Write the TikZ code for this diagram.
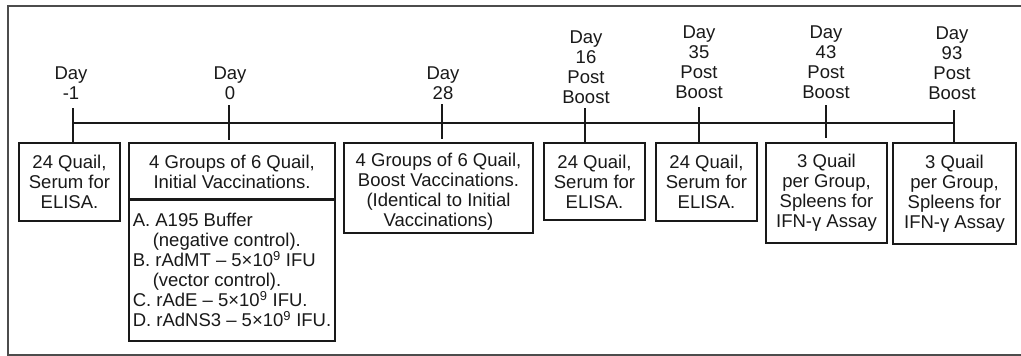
\documentclass[tikz,border=0pt]{standalone}
\usepackage{fontspec}
\setmainfont{Liberation Sans}
\newcommand\fs{\fontsize{18.5}{20}\selectfont}
\tikzset{
  box/.style={draw=black!90, line width=1.6pt, rectangle, inner sep=0pt, align=center, font=\fs, text=black!90},
  listbox/.style={box, align=left},
  lab/.style={inner sep=0pt, align=center, font=\fs, text=black!90},
  tick/.style={draw=black!90, line width=1.6pt},
  frame/.style={draw=black!70, line width=2pt}
}
\begin{document}
\begin{tikzpicture}[x=1pt,y=-1pt]
\useasboundingbox (0,0) rectangle (1021,356);
\fill[white] (0,0) rectangle (1021,356);
% frame
\draw[frame] (1030,6) -- (8,6) -- (8,355) -- (1030,355);

% labels
\node[lab] (l1) at (71,83) {Day\\-1};
\node[lab] (l2) at (230,83) {Day\\0};
\node[lab] (l3) at (443,83) {Day\\28};
\node[lab] (l4) at (586,67.5) {Day\\16\\Post\\Boost};
\node[lab] (l5) at (699,62) {Day\\35\\Post\\Boost};
\node[lab] (l6) at (826,62) {Day\\43\\Post\\Boost};
\node[lab] (l7) at (952,63.5) {Day\\93\\Post\\Boost};

% boxes
\node[box, minimum width=101pt, minimum height=78pt] (b1) at (69.5,182) {24 Quail,\\Serum for\\ELISA.};
\node[box, minimum width=206pt, minimum height=57pt] (b2a) at (232,171.5) {4 Groups of 6 Quail,\\Initial Vaccinations.};
\node[listbox, minimum width=206pt, minimum height=142pt] (b2b) at (232,270) {A. A195 Buffer\\\hspace*{20pt}(negative control).\\B. rAdMT – 5×10\textsuperscript{9} IFU\\\hspace*{20pt}(vector control).\\C. rAdE – 5×10\textsuperscript{9} IFU.\\D. rAdNS3 – 5×10\textsuperscript{9} IFU.};
\node[box, minimum width=189pt, minimum height=90pt] (b3) at (438.5,188) {\rule{0pt}{21pt}4 Groups of 6 Quail,\\Boost Vaccinations.\\(Identical to Initial\\Vaccinations)};
\node[box, minimum width=101pt, minimum height=77pt] (b4) at (594.5,181.5) {24 Quail,\\Serum for\\ELISA.};
\node[box, minimum width=101pt, minimum height=78pt] (b5) at (706.5,182) {24 Quail,\\Serum for\\ELISA.};
\node[box, minimum width=121pt, minimum height=100pt] (b6) at (826.5,193) {3 Quail\\per Group,\\Spleens for\\IFN-γ Assay};
\node[box, minimum width=123pt, minimum height=101pt] (b7) at (954.5,193.5) {3 Quail\\per Group,\\Spleens for\\IFN-γ Assay};

% timeline
\coordinate (tl0) at (73,123);
\coordinate (tl1) at (954,123);
\draw[tick] (tl0) -- (tl1);

% ticks
\coordinate (a1) at (73,108);
\coordinate (a2) at (229,105);  \coordinate (e2) at (229,140);
\coordinate (a3) at (442,104);  \coordinate (e3) at (442,139);
\coordinate (a4) at (585,108);
\coordinate (a5) at (699,107);
\coordinate (a6) at (826,105);  \coordinate (e6) at (826,138);
\coordinate (a7) at (954,110);
\draw[tick] (a1) -- (a1 |- b1.north);
\draw[tick] (a2) -- (e2);
\draw[tick] (a3) -- (e3);
\draw[tick] (a4) -- (a4 |- b4.north);
\draw[tick] (a5) -- (a5 |- b5.north);
\draw[tick] (a6) -- (e6);
\draw[tick] (a7) -- (a7 |- b7.north);
\end{tikzpicture}
\end{document}
